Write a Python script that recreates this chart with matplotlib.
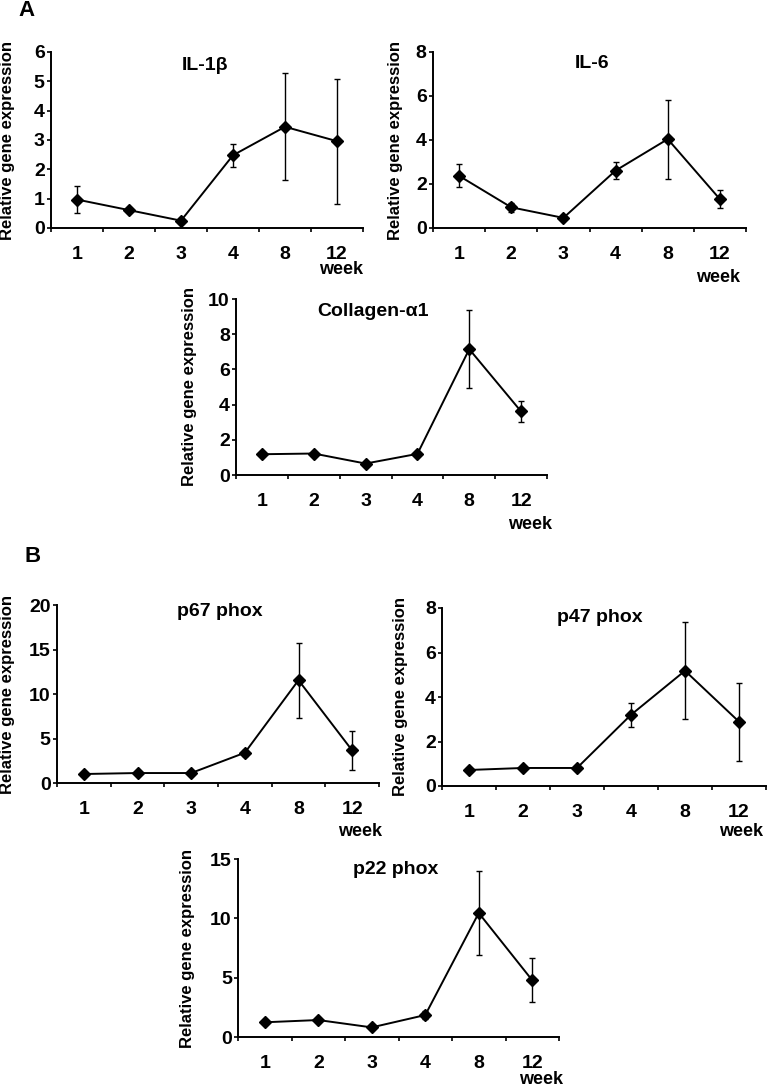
import matplotlib
matplotlib.use("Agg")
import matplotlib.pyplot as plt
from matplotlib.ticker import FixedLocator

plt.rcParams['font.family'] = ['Liberation Sans', 'DejaVu Sans']
plt.rcParams['font.weight'] = 'bold'

weeks = ['1', '2', '3', '4', '8', '12']

il1b = [0.97, 0.61, 0.25, 2.48, 3.45, 2.96]
il1b_err = [0.45, 0.04, 0.04, 0.40, 1.83, 2.13]
il6 = [2.37, 0.94, 0.46, 2.61, 4.04, 1.31]
il6_err = [0.52, 0.20, 0.05, 0.39, 1.80, 0.42]
col = [1.18, 1.22, 0.65, 1.20, 7.15, 3.61]
col_err = [0.05, 0.05, 0.05, 0.05, 2.20, 0.62]
p67 = [1.01, 1.12, 1.12, 3.40, 11.55, 3.66]
p67_err = [0.10, 0.10, 0.10, 0.35, 4.20, 2.17]
p47 = [0.72, 0.81, 0.81, 3.20, 5.18, 2.89]
p47_err = [0.05, 0.05, 0.05, 0.53, 2.18, 1.76]
p22 = [1.24, 1.43, 0.81, 1.85, 10.45, 4.78]
p22_err = [0.10, 0.10, 0.10, 0.35, 3.50, 1.87]

W, H = 767, 1088
fig = plt.figure(figsize=(W / 100, H / 100), dpi=100)

def fx(x):
    return x / W

def fy(y):
    return 1 - y / H

panels = [
    # title, values, errors, ymax, ystep, (L,R,T,B), title xy, week right/y, ylabel right
    ('IL-1β', il1b, il1b_err, 6, 1, (51, 363, 52, 228), (205, 65), (363, 270), 15),
    ('IL-6', il6, il6_err, 8, 2, (433, 746, 52, 228), (592, 63), (740, 277), 403),
    ('Collagen-α1', col, col_err, 10, 2, (236, 547, 299, 475), (373, 312), (552, 524), 197),
    ('p67 phox', p67, p67_err, 20, 5, (57, 379, 605, 783), (220, 612), (382, 831), 15),
    ('p47 phox', p47, p47_err, 8, 2, (442, 766, 608, 786), (600, 617), (763, 831), 408),
    ('p22 phox', p22, p22_err, 15, 5, (238, 559, 859, 1037), (396, 870), (563, 1079), 195),
]

for title, vals, errs, ymax, ystep, (L, R, T, B), (tx, ty), (wx, wy), ylr in panels:
    ax = fig.add_axes([fx(L), fy(B), (R - L) / W, (B - T) / H])
    xs = list(range(1, len(weeks) + 1))
    ax.errorbar(xs, vals, yerr=errs, color='black', lw=1.4, marker='D',
                markersize=6, elinewidth=1.0, capsize=2, capthick=1.0)
    ax.set_xlim(0.5, len(weeks) + 0.5)
    ax.set_ylim(0, ymax)
    ax.set_yticks(list(range(0, ymax + 1, ystep)))
    ax.set_xticks(xs)
    ax.set_xticklabels(weeks)
    ax.xaxis.set_minor_locator(FixedLocator([i + 0.5 for i in range(0, len(weeks) + 1)]))
    ax.tick_params(axis='x', which='major', length=0, pad=13, labelsize=14)
    ax.tick_params(axis='x', which='minor', length=3, width=1.2, direction='out')
    ax.tick_params(axis='y', which='major', length=3, width=1.2, direction='out',
                   pad=1.5, labelsize=14)
    for s in ['top', 'right']:
        ax.spines[s].set_visible(False)
    for s in ['left', 'bottom']:
        ax.spines[s].set_linewidth(1.4)
    ax.set_ylabel('Relative gene expression', fontsize=12, fontweight='bold')
    ax.yaxis.set_label_coords((ylr - L) / (R - L), 0.5)
    fig.text(fx(tx), fy(ty), title, fontsize=14, fontweight='bold',
             ha='center', va='center')
    fig.text(fx(wx), fy(wy), 'week', fontsize=13, fontweight='bold',
             ha='right', va='center')

fig.text(fx(18), fy(11), 'A', fontsize=16, fontweight='bold', ha='left', va='center')
fig.text(fx(25), fy(556), 'B', fontsize=16, fontweight='bold', ha='left', va='center')

fig.savefig('out.png', dpi=100)
